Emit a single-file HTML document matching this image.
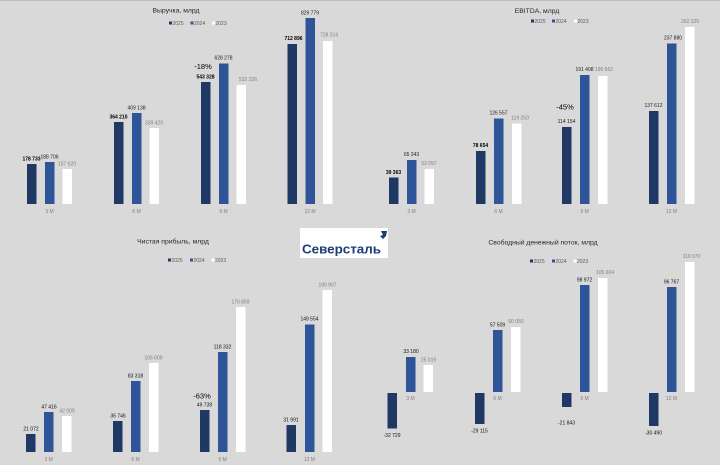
<!DOCTYPE html>
<html><head><meta charset="utf-8"><style>
html,body{margin:0;padding:0;background:#d9d9d9;}
svg{display:block;}
text{font-family:"Liberation Sans","DejaVu Sans",sans-serif;}
</style></head><body>
<svg width="720" height="465" viewBox="0 0 720 465" xmlns="http://www.w3.org/2000/svg">
<rect x="0" y="0" width="720" height="465" fill="#d9d9d9"/>
<rect x="0" y="0" width="720" height="1" fill="#bfbfbf"/>

<!-- ===== Revenue ===== -->
<text x="176" y="12.5" font-size="6.8" text-anchor="middle" fill="#262626">Выручка, млрд</text>
<g font-size="5" fill="#595959">
<rect x="169" y="21.5" width="3" height="3" fill="#203864"/><text x="172.5" y="25">2025</text>
<rect x="190.5" y="21.5" width="3" height="3" fill="#2e5597"/><text x="194" y="25">2024</text>
<rect x="212" y="21.5" width="3" height="3" fill="#ffffff"/><text x="215.5" y="25">2023</text>
</g>
<g>
<rect x="27" y="164" width="9.5" height="40" fill="#203864"/>
<rect x="45" y="162" width="9.5" height="42" fill="#2e5597"/>
<rect x="62.5" y="169" width="9.5" height="35" fill="#ffffff"/>
<rect x="114" y="122" width="9.5" height="82" fill="#203864"/>
<rect x="132" y="113" width="9.5" height="91" fill="#2e5597"/>
<rect x="149.5" y="128" width="9.5" height="76" fill="#ffffff"/>
<rect x="201" y="82" width="9.5" height="122" fill="#203864"/>
<rect x="219" y="63.5" width="9.5" height="140.5" fill="#2e5597"/>
<rect x="236.5" y="85" width="9.5" height="119" fill="#ffffff"/>
<rect x="287.5" y="44" width="9.5" height="160" fill="#203864"/>
<rect x="305.5" y="18" width="9.5" height="186" fill="#2e5597"/>
<rect x="323" y="41" width="9.5" height="163" fill="#ffffff"/>
</g>
<g font-size="5" text-anchor="middle">
<text x="31.5" y="160.5" font-weight="bold" fill="#000">178 733</text>
<text x="49.5" y="158.5" fill="#222">188 706</text>
<text x="67" y="165.5" fill="#808080">157 620</text>
<text x="118.5" y="118.5" font-weight="bold" fill="#000">364 210</text>
<text x="136.5" y="109.5" fill="#222">409 138</text>
<text x="154" y="124.5" fill="#808080">339 429</text>
<text x="205.5" y="78.5" font-weight="bold" fill="#000">543 328</text>
<text x="223.5" y="59.5" fill="#222">628 278</text>
<text x="248" y="81" fill="#808080">532 326</text>
<text x="293.5" y="40" font-weight="bold" fill="#000">712 896</text>
<text x="310" y="14.5" fill="#222">829 779</text>
<text x="329" y="36.5" fill="#808080">728 314</text>
</g>
<text x="203" y="69" font-size="7.5" text-anchor="middle" fill="#000">-18%</text>
<g font-size="5" text-anchor="middle" fill="#7f7f7f">
<text x="49.5" y="213">3 M</text><text x="136.5" y="213">6 M</text><text x="223.5" y="213">9 M</text><text x="310" y="213">12 M</text>
</g>

<!-- ===== EBITDA ===== -->
<text x="537" y="13" font-size="6.8" text-anchor="middle" fill="#262626">EBITDA, млрд</text>
<g font-size="5" fill="#595959">
<rect x="531" y="19.5" width="3" height="3" fill="#203864"/><text x="534.5" y="23">2025</text>
<rect x="552" y="19.5" width="3" height="3" fill="#2e5597"/><text x="555.5" y="23">2024</text>
<rect x="574" y="19.5" width="3" height="3" fill="#ffffff"/><text x="577.5" y="23">2023</text>
</g>
<g>
<rect x="389" y="177.5" width="9.5" height="26.5" fill="#203864"/>
<rect x="407" y="160" width="9.5" height="44" fill="#2e5597"/>
<rect x="424.5" y="169" width="9.5" height="35" fill="#ffffff"/>
<rect x="476" y="151" width="9.5" height="53" fill="#203864"/>
<rect x="494" y="118.5" width="9.5" height="85.5" fill="#2e5597"/>
<rect x="512" y="123.5" width="9.5" height="80.5" fill="#ffffff"/>
<rect x="562" y="127" width="9.5" height="77" fill="#203864"/>
<rect x="580" y="75" width="9.5" height="129" fill="#2e5597"/>
<rect x="598" y="76" width="9.5" height="128" fill="#ffffff"/>
<rect x="649" y="111" width="9.5" height="93" fill="#203864"/>
<rect x="667" y="43.5" width="9.5" height="160.5" fill="#2e5597"/>
<rect x="685" y="27" width="9.5" height="177" fill="#ffffff"/>
</g>
<g font-size="5" text-anchor="middle">
<text x="393.5" y="174" font-weight="bold" fill="#000">39 363</text>
<text x="411.5" y="156" fill="#222">65 343</text>
<text x="429" y="165" fill="#808080">52 097</text>
<text x="480.5" y="147" font-weight="bold" fill="#000">78 654</text>
<text x="498.5" y="114.5" fill="#222">126 557</text>
<text x="520" y="119.5" fill="#808080">119 250</text>
<text x="566.5" y="123" fill="#222">114 154</text>
<text x="584.5" y="71" fill="#222">191 408</text>
<text x="604" y="71" fill="#808080">190 662</text>
<text x="653.5" y="107" fill="#222">137 612</text>
<text x="673" y="39.5" fill="#222">237 880</text>
<text x="690" y="23" fill="#808080">262 329</text>
</g>
<text x="565" y="109.5" font-size="7.5" text-anchor="middle" fill="#000">-45%</text>
<g font-size="5" text-anchor="middle" fill="#7f7f7f">
<text x="411.5" y="213">3 M</text><text x="498.5" y="213">6 M</text><text x="584.5" y="213">9 M</text><text x="671.5" y="213">12 M</text>
</g>

<!-- ===== Logo ===== -->
<rect x="300" y="228" width="88" height="30" fill="#ffffff"/>
<text x="302" y="253.5" font-size="12.5" font-weight="bold" fill="#1b3c78" textLength="79" lengthAdjust="spacingAndGlyphs">Северсталь</text>
<path d="M381 231 L387 231 L386 236 L383 239 L380 236 L383 235 Z" fill="#1b3c78"/>

<!-- ===== Net profit ===== -->
<text x="173" y="243.5" font-size="6.8" text-anchor="middle" fill="#262626">Чистая прибыль, млрд</text>
<g font-size="5" fill="#595959">
<rect x="168" y="258.5" width="3" height="3" fill="#203864"/><text x="171.5" y="262">2025</text>
<rect x="190" y="258.5" width="3" height="3" fill="#2e5597"/><text x="193.5" y="262">2024</text>
<rect x="211.5" y="258.5" width="3" height="3" fill="#ffffff"/><text x="215" y="262">2023</text>
</g>
<g>
<rect x="26" y="434" width="9.5" height="18" fill="#203864"/>
<rect x="44" y="412" width="9.5" height="40" fill="#2e5597"/>
<rect x="62" y="416" width="9.5" height="36" fill="#ffffff"/>
<rect x="113" y="421" width="9.5" height="31" fill="#203864"/>
<rect x="131" y="381" width="9.5" height="71" fill="#2e5597"/>
<rect x="149" y="363" width="9.5" height="89" fill="#ffffff"/>
<rect x="200" y="410" width="9.5" height="42" fill="#203864"/>
<rect x="218" y="352" width="9.5" height="100" fill="#2e5597"/>
<rect x="236" y="307" width="9.5" height="145" fill="#ffffff"/>
<rect x="286.5" y="425" width="9.5" height="27" fill="#203864"/>
<rect x="305" y="324.5" width="9.5" height="127.5" fill="#2e5597"/>
<rect x="322.5" y="290" width="9.5" height="162" fill="#ffffff"/>
</g>
<g font-size="5" text-anchor="middle">
<text x="31" y="430.5" fill="#111">21 072</text>
<text x="49" y="408.5" fill="#111">47 416</text>
<text x="67" y="412.5" fill="#808080">42 009</text>
<text x="118" y="417.5" fill="#111">36 746</text>
<text x="135.5" y="377.5" fill="#111">83 318</text>
<text x="153.5" y="359.5" fill="#808080">105 009</text>
<text x="204.5" y="406.5" fill="#111">49 739</text>
<text x="222.5" y="348.5" fill="#111">118 332</text>
<text x="240.5" y="303.5" fill="#808080">170 859</text>
<text x="291" y="421.5" fill="#111">31 991</text>
<text x="309.5" y="320.5" fill="#111">149 554</text>
<text x="327.5" y="286.5" fill="#808080">190 907</text>
</g>
<text x="202" y="398.5" font-size="7.5" text-anchor="middle" fill="#000">-63%</text>
<g font-size="5" text-anchor="middle" fill="#7f7f7f">
<text x="48.5" y="461">3 M</text><text x="135.5" y="461">6 M</text><text x="222.5" y="461">9 M</text><text x="309.5" y="461">12 M</text>
</g>

<!-- ===== FCF ===== -->
<text x="543" y="244.5" font-size="6.8" text-anchor="middle" fill="#262626">Свободный денежный поток, млрд</text>
<g font-size="5" fill="#595959">
<rect x="530" y="259.5" width="3" height="3" fill="#203864"/><text x="533.5" y="263">2025</text>
<rect x="552" y="259.5" width="3" height="3" fill="#2e5597"/><text x="555.5" y="263">2024</text>
<rect x="573.5" y="259.5" width="3" height="3" fill="#ffffff"/><text x="577" y="263">2023</text>
</g>
<g>
<rect x="387.5" y="393" width="9.5" height="35.5" fill="#203864"/>
<rect x="406" y="357" width="9.5" height="35" fill="#2e5597"/>
<rect x="423.5" y="365" width="9.5" height="27" fill="#ffffff"/>
<rect x="475" y="393" width="9.5" height="31" fill="#203864"/>
<rect x="493" y="330" width="9.5" height="62" fill="#2e5597"/>
<rect x="511" y="327" width="9.5" height="65" fill="#ffffff"/>
<rect x="562" y="393" width="9.5" height="14" fill="#203864"/>
<rect x="580" y="285" width="9.5" height="107" fill="#2e5597"/>
<rect x="598" y="278" width="9.5" height="114" fill="#ffffff"/>
<rect x="649" y="393" width="9.5" height="33" fill="#203864"/>
<rect x="667" y="287" width="9.5" height="105" fill="#2e5597"/>
<rect x="685" y="262" width="9.5" height="130" fill="#ffffff"/>
</g>
<g font-size="5" text-anchor="middle">
<text x="392" y="437" fill="#111">-32 729</text>
<text x="411" y="353" fill="#111">33 180</text>
<text x="428.5" y="361.5" fill="#808080">25 019</text>
<text x="479.5" y="432.5" fill="#111">-29 115</text>
<text x="497.5" y="326.5" fill="#111">57 509</text>
<text x="516" y="323" fill="#808080">60 050</text>
<text x="566.5" y="424.5" fill="#111">-21 843</text>
<text x="584.5" y="281.5" fill="#111">98 972</text>
<text x="605" y="274" fill="#808080">105 604</text>
<text x="653.5" y="434.5" fill="#111">-30 490</text>
<text x="671.5" y="283.5" fill="#111">96 767</text>
<text x="691.5" y="258" fill="#808080">119 970</text>
</g>
<g font-size="5" text-anchor="middle" fill="#7f7f7f">
<text x="410.5" y="400">3 M</text><text x="497.5" y="400">6 M</text><text x="584.5" y="400">9 M</text><text x="671.5" y="400">12 M</text>
</g>
</svg>
</body></html>
